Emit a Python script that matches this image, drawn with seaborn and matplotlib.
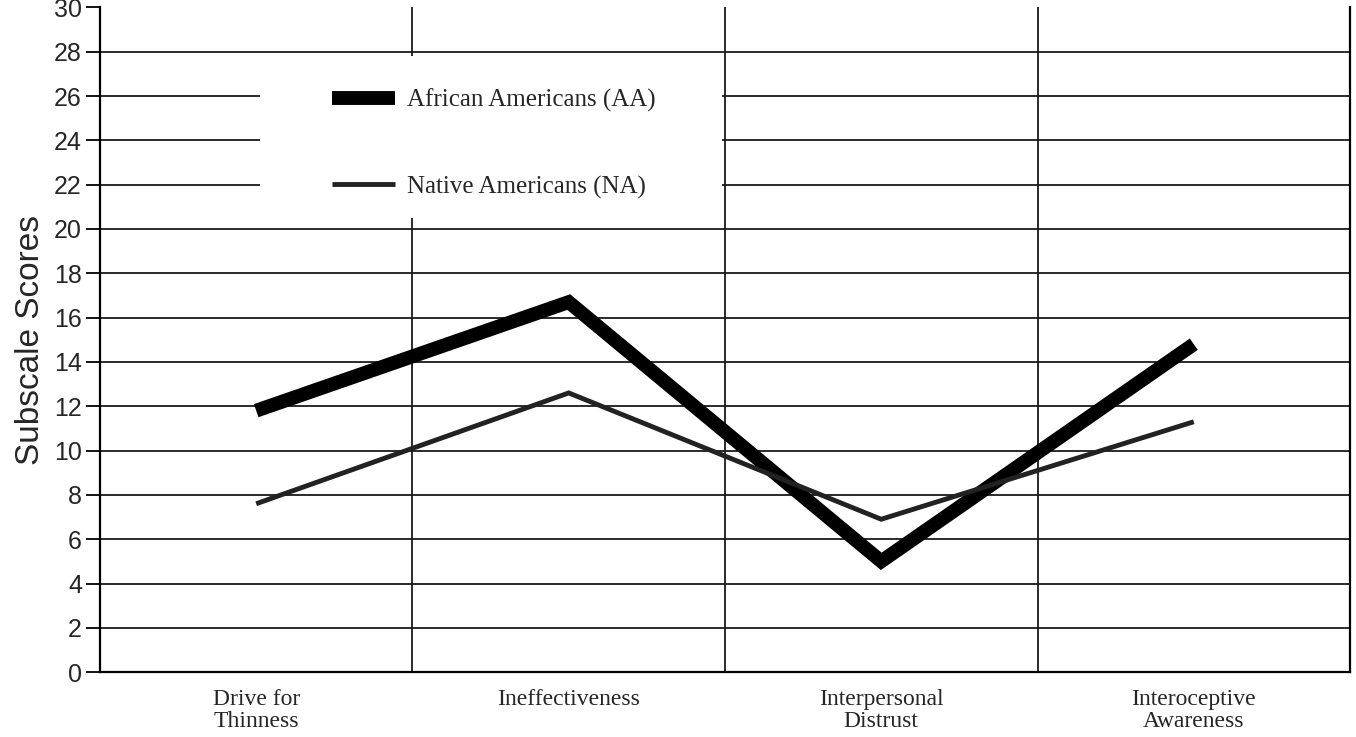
import matplotlib
matplotlib.use('Agg')
import matplotlib.pyplot as plt
import seaborn as sns
import pandas as pd
from matplotlib.patches import Rectangle

sns.set_style('white')

categories = ['Drive for\nThinness', 'Ineffectiveness', 'Interpersonal\nDistrust', 'Interoceptive\nAwareness']
aa_scores = [11.8, 16.7, 5.0, 14.8]
na_scores = [7.6, 12.6, 6.9, 11.3]
y_ticks = list(range(0, 31, 2))

aa = pd.DataFrame({'subscale': categories, 'score': aa_scores})
na = pd.DataFrame({'subscale': categories, 'score': na_scores})

fig = plt.figure(figsize=(13.56, 7.37), dpi=100)
ax = fig.add_axes([0.0737, 0.088, 0.9219, 0.902])

sns.lineplot(data=aa, x='subscale', y='score', sort=False, color='black', linewidth=10,
             solid_joinstyle='miter', solid_capstyle='butt', label='African Americans (AA)', ax=ax)
sns.lineplot(data=na, x='subscale', y='score', sort=False, color='#222222', linewidth=3.5,
             solid_joinstyle='miter', solid_capstyle='butt', label='Native Americans (NA)', ax=ax)

ax.set_xlim(-0.5, 3.5)
ax.set_ylim(0, 30)
ax.set_yticks(y_ticks)
ax.set_yticklabels([str(t) for t in y_ticks], family='Liberation Sans', fontsize=18)
ax.set_xticks(range(len(categories)))
ax.set_xticklabels(categories, family='Liberation Serif', fontsize=17, va='top', linespacing=1.1)
ax.tick_params(axis='x', which='major', length=0, pad=12)
ax.set_xticks([-0.5, 0.5, 1.5, 2.5, 3.5], minor=True)
ax.tick_params(axis='x', which='minor', length=12, width=1.4, color='black', direction='out')
ax.tick_params(axis='y', length=10, width=1.3, color='black', direction='out', left=True, pad=3)

ax.set_axisbelow(True)
ax.yaxis.grid(True, color='#1a1a1a', linewidth=1.3)
ax.xaxis.grid(True, which='minor', color='#1a1a1a', linewidth=1.3)
ax.xaxis.grid(False, which='major')
ax.get_ygridlines()[-1].set_visible(False)

ax.set_xlabel('')
ax.set_ylabel('Subscale Scores', family='Liberation Sans', fontsize=24, labelpad=6)

for side in ['left', 'bottom', 'right']:
    ax.spines[side].set_color('black')
    ax.spines[side].set_linewidth(1.6)
ax.spines['top'].set_visible(False)

ax.add_patch(Rectangle((0.012, 20.5), 1.48, 7.3, facecolor='white', edgecolor='none', zorder=1.5))

leg = ax.legend(loc='upper left', bbox_to_anchor=(0.168, 0.912), frameon=False,
                prop={'family': 'Liberation Serif', 'size': 18}, handlelength=2.5,
                labelspacing=2.55, handletextpad=0.5)
leg.set_zorder(3)

fig.savefig('out.png', dpi=100, facecolor='white')
